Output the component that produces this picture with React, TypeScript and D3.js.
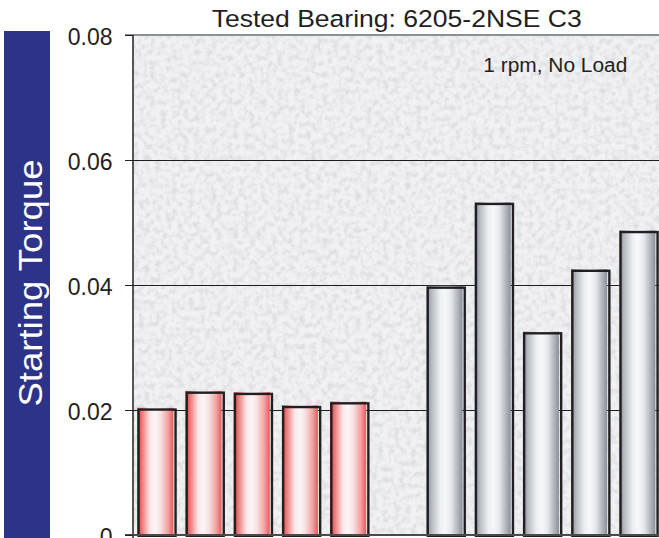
import React from "react";
import * as d3 from "d3";

const slots = ["R1", "R2", "R3", "R4", "R5", "gap", "S1", "S2", "S3", "S4", "S5"];
const redCats = ["R1", "R2", "R3", "R4", "R5"];
const redValues = [0.0202, 0.0229, 0.0227, 0.0206, 0.0212];
const grayCats = ["S1", "S2", "S3", "S4", "S5"];
const grayValues = [0.0397, 0.0531, 0.0324, 0.0424, 0.0486];
const yTicks = [0, 0.02, 0.04, 0.06, 0.08];
const yTickLabels = ["0", "0.02", "0.04", "0.06", "0.08"];
const title = "Tested Bearing: 6205-2NSE C3";
const subtitle = "1 rpm, No Load";
const yLabel = "Starting Torque";

const W = 659;
const H = 538;
const plotLeft = 133;
const plotTop = 35;
const plotBottom = 535;

export default function App() {
  const y = d3.scaleLinear().domain([0, 0.08]).range([plotBottom, plotTop]);
  const x = d3
    .scaleBand<string>()
    .domain(slots)
    .range([plotLeft, 660.7])
    .paddingInner(0.232)
    .paddingOuter(0.09);
  const bw = x.bandwidth();
  const font = "'Liberation Sans', Arial, sans-serif";
  const txt = "#231f20";

  const bars = [
    ...redCats.map((c, i) => ({ c, v: redValues[i], g: "url(#redGrad)" })),
    ...grayCats.map((c, i) => ({ c, v: grayValues[i], g: "url(#grayGrad)" })),
  ];

  return (
    <div style={{ position: "absolute", left: 0, top: 0, width: W, height: H, background: "#fff" }}>
      <svg width={W} height={H} style={{ display: "block" }}>
        <defs>
          <linearGradient id="redGrad" x1="0" x2="1" y1="0" y2="0">
            <stop offset="0%" stopColor="#e6353a" />
            <stop offset="12%" stopColor="#ee7476" />
            <stop offset="35%" stopColor="#fbe6e6" />
            <stop offset="50%" stopColor="#faf6f6" />
            <stop offset="65%" stopColor="#f8e0e0" />
            <stop offset="85%" stopColor="#f1a2a3" />
            <stop offset="100%" stopColor="#e9595b" />
          </linearGradient>
          <linearGradient id="grayGrad" x1="0" x2="1" y1="0" y2="0">
            <stop offset="0%" stopColor="#878d97" />
            <stop offset="15%" stopColor="#b9bec5" />
            <stop offset="38%" stopColor="#eef0f3" />
            <stop offset="52%" stopColor="#f7f8fa" />
            <stop offset="68%" stopColor="#e6e8ec" />
            <stop offset="88%" stopColor="#adb2b9" />
            <stop offset="100%" stopColor="#8a9098" />
          </linearGradient>
          <filter id="noise" x="0" y="0" width="100%" height="100%">
            <feTurbulence type="fractalNoise" baseFrequency="0.18" numOctaves="3" seed="7" result="t" />
            <feColorMatrix
              in="t"
              type="matrix"
              values="0 0 0 0 0.62  0 0 0 0 0.63  0 0 0 0 0.67  0 0 0 -2.6 1.55"
            />
          </filter>
          <clipPath id="plotClip">
            <rect x={plotLeft} y={plotTop} width={W - plotLeft} height={plotBottom - plotTop} />
          </clipPath>
        </defs>

        {/* left blue label band */}
        <rect x={4} y={31} width={46} height={H - 31} fill="#2e338a" />
        <text
          transform={`translate(41.5, 283) rotate(-90)`}
          textAnchor="middle"
          fontFamily={font}
          fontSize={33}
          fill="#fff"
          textLength={247}
          lengthAdjust="spacingAndGlyphs"
        >
          {yLabel}
        </text>

        {/* plot background */}
        <rect x={plotLeft} y={plotTop} width={W - plotLeft} height={plotBottom - plotTop} fill="#f1f1f3" />
        <g clipPath="url(#plotClip)">
          <rect
            x={plotLeft}
            y={plotTop}
            width={W - plotLeft}
            height={plotBottom - plotTop}
            filter="url(#noise)"
            opacity={0.55}
          />
        </g>

        {/* grid lines */}
        {yTicks.slice(1, 4).map((t) => (
          <line key={t} x1={125} x2={W} y1={y(t) + 0.5} y2={y(t) + 0.5} stroke="#1e1e1e" strokeWidth={1} />
        ))}
        <line x1={125} x2={W} y1={y(0.08)} y2={y(0.08)} stroke="#8a9098" strokeWidth={2} />

        {/* bars */}
        {bars.map((b) => {
          const bx = x(b.c) as number;
          const by = y(b.v);
          return (
            <g key={b.c}>
              <rect x={bx} y={by - 1} width={bw - 1} height={plotBottom - by + 1} fill={b.g} />
              <rect
                x={bx + 1.2}
                y={by + 0.8}
                width={bw}
                height={plotBottom - by}
                fill="none"
                stroke="#231f20"
                strokeWidth={2.4}
              />
            </g>
          );
        })}

        {/* axes */}
        <line x1={plotLeft} x2={plotLeft} y1={plotTop} y2={H} stroke="#231f20" strokeWidth={1.5} />
        <line x1={125} x2={W} y1={plotBottom} y2={plotBottom} stroke="#4a4a4a" strokeWidth={2} />
        {yTicks.map((t, i) => (
          <g key={t}>
            <line x1={125} x2={plotLeft} y1={y(t) + 0.5} y2={y(t) + 0.5} stroke="#231f20" strokeWidth={1} />
            <text
              x={112.5}
              y={y(t) + 9.5}
              textAnchor="end"
              fontFamily={font}
              fontSize={23}
              fill={txt}
            >
              {yTickLabels[i]}
            </text>
          </g>
        ))}

        {/* titles */}
        <text
          x={396.7}
          y={26.7}
          textAnchor="middle"
          fontFamily={font}
          fontSize={24.3}
          fill={txt}
          textLength={370}
          lengthAdjust="spacingAndGlyphs"
        >
          {title}
        </text>
        <text
          x={483.3}
          y={72.3}
          fontFamily={font}
          fontSize={19.5}
          fill={txt}
          textLength={144}
          lengthAdjust="spacingAndGlyphs"
        >
          {subtitle}
        </text>
      </svg>
    </div>
  );
}
